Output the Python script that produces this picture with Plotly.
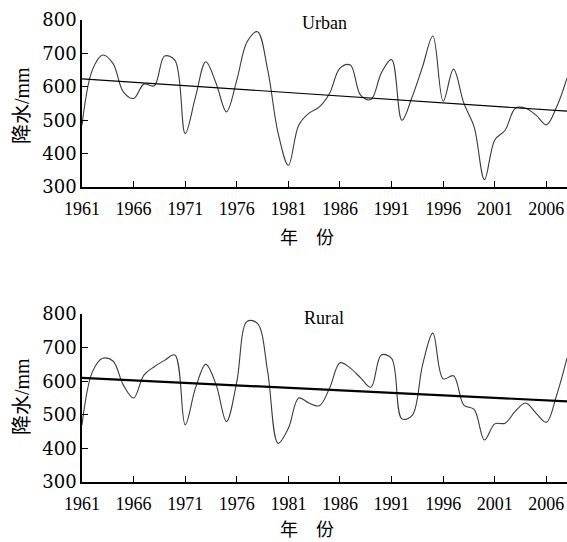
import plotly.graph_objects as go

years = list(range(1961, 2009))

urban = [485, 650, 695, 670, 585, 565, 608, 603, 692, 680, 460, 570, 675, 610, 525, 620,
         735, 765, 650, 462, 365, 485, 521, 540, 581, 656, 665, 575, 562, 641, 682, 500,
         570, 660, 752, 557, 653, 551, 480, 322, 441, 470, 536, 536, 515, 486, 540, 626]

rural = [470, 627, 668, 660, 589, 550, 618, 643, 662, 678, 470, 580, 650, 589, 480, 598,
         778, 772, 627, 415, 460, 550, 535, 527, 580, 655, 639, 610, 582, 678, 668, 488,
         498, 648, 743, 607, 616, 529, 516, 425, 473, 475, 511, 535, 505, 478, 559, 669]

trend_years = [1961, 2008]
urban_trend = [624, 527]
rural_trend = [610, 540]

x_ticks = [1961, 1966, 1971, 1976, 1981, 1986, 1991, 1996, 2001, 2006]
y_ticks = [300, 400, 500, 600, 700, 800]

W, H = 567, 542
ML, MR, MT, MB = 82, 0, 20, 60
PH = H - MT - MB

def py(pix):
    return (H - MB - pix) / PH

def px(pix):
    return (pix - ML) / (W - ML - MR)

serif = "Liberation Serif"
cjk = "Liberation Serif, Noto Sans CJK SC"

fig = go.Figure()

line_col = "#3a3a3a"
fig.add_trace(go.Scatter(x=years, y=urban, mode="lines", line=dict(color=line_col, width=1.1, shape="spline", smoothing=1.0),
                         xaxis="x", yaxis="y", showlegend=False))
fig.add_trace(go.Scatter(x=trend_years, y=urban_trend, mode="lines", line=dict(color="black", width=1.2),
                         xaxis="x", yaxis="y", showlegend=False))
fig.add_trace(go.Scatter(x=years, y=rural, mode="lines", line=dict(color=line_col, width=1.1, shape="spline", smoothing=1.0),
                         xaxis="x2", yaxis="y2", showlegend=False))
fig.add_trace(go.Scatter(x=trend_years, y=rural_trend, mode="lines", line=dict(color="black", width=2.2),
                         xaxis="x2", yaxis="y2", showlegend=False))

xcommon = dict(range=[1961, 2008], tickvals=x_ticks, ticktext=[str(v) for v in x_ticks],
               ticks="inside", ticklen=6, tickwidth=1, tickcolor="black",
               showline=True, linecolor="black", linewidth=2, showgrid=False, zeroline=False,
               tickfont=dict(family=serif, size=18, color="black"), ticklabelstandoff=4)
ycommon = dict(range=[300, 800], tickvals=y_ticks, ticks="inside", ticklen=6, tickwidth=1, tickcolor="black",
               showline=True, linecolor="black", linewidth=1.5, showgrid=False, zeroline=False,
               tickfont=dict(family="DejaVu Serif", size=18, color="black"))

fig.update_layout(
    width=W, height=H,
    font=dict(family=serif, color="black"),
    margin=dict(l=ML, r=MR, t=MT, b=MB),
    plot_bgcolor="white", paper_bgcolor="white",
    xaxis=dict(domain=[0, 1], anchor="y", **xcommon),
    yaxis=dict(domain=[py(187), 1], anchor="x", **ycommon),
    xaxis2=dict(domain=[0, 1], anchor="y2", **xcommon),
    yaxis2=dict(domain=[0, py(314)], anchor="x2", **ycommon),
)

ann = []
for ytitle_pix, xtitle_pix, name, name_pix in [(106, 238, "Urban", 23), (397, 530, "Rural", 318)]:
    ann.append(dict(text="降水/mm", x=px(22), y=py(ytitle_pix), xref="paper", yref="paper",
                    textangle=-90, showarrow=False, xanchor="center", yanchor="middle",
                    font=dict(family=cjk, size=20, color="black")))
    ann.append(dict(text="年\u3000份", x=px(307), y=py(xtitle_pix), xref="paper", yref="paper",
                    showarrow=False, xanchor="center", yanchor="middle",
                    font=dict(family=cjk, size=18, color="black")))
    ann.append(dict(text=name, x=px(324), y=py(name_pix), xref="paper", yref="paper",
                    showarrow=False, xanchor="center", yanchor="middle",
                    font=dict(family=serif, size=18, color="black")))
fig.update_layout(annotations=ann)

fig.write_html("out.html", config={"displayModeBar": False},
               post_script="document.body.style.margin='0px';document.body.style.overflow='hidden';")
